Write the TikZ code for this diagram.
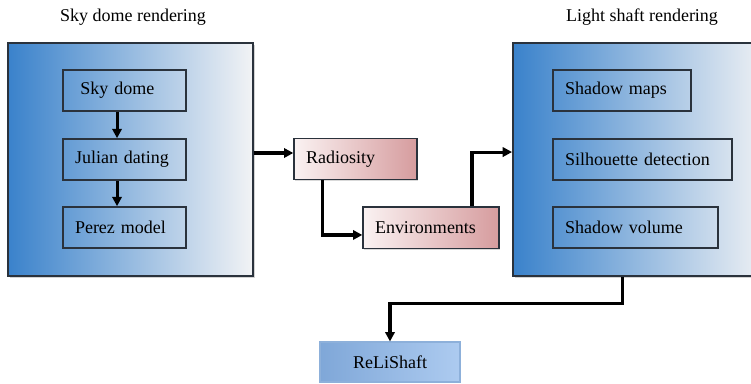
\documentclass[tikz,border=0pt]{standalone}
\usepackage{fontspec}
\setmainfont{Liberation Serif}
\usetikzlibrary{arrows.meta,shadows}
\definecolor{bluedark}{HTML}{3A82CB}
\definecolor{bluemid}{HTML}{A9C6E6}
\definecolor{bluelight}{HTML}{F2F3F5}
\definecolor{pinklight}{HTML}{FAF2F2}
\definecolor{pinkdark}{HTML}{D69C9E}
\definecolor{relileft}{HTML}{7FA7D8}
\definecolor{reliright}{HTML}{ADCBF0}
\definecolor{reliborder}{HTML}{8DB0DA}
\definecolor{boxborder}{HTML}{2A323C}
\tikzset{
  txt/.style={font=\fontsize{13.5}{16}\selectfont},
  bigbox/.style={draw=boxborder, line width=1.4pt, left color=bluedark, middle color=bluemid, right color=bluelight,
    shading=axis, drop shadow={shadow xshift=1.5pt, shadow yshift=-1.5pt, opacity=0.35},
    minimum height=174.75pt, inner sep=0pt},
  innerbox/.style={txt, draw=boxborder, line width=1.2pt, minimum height=30.75pt,
    inner xsep=9pt, inner ysep=0pt, align=left},
  pinkbox/.style={txt, draw=boxborder, line width=1pt, left color=pinklight, right color=pinkdark,
    drop shadow={shadow xshift=1pt, shadow yshift=-1pt, opacity=0.3},
    minimum height=31pt, inner xsep=9pt, inner ysep=0pt, align=left},
  relibox/.style={txt, draw=reliborder, line width=0.8pt, left color=relileft, right color=reliright,
    minimum height=30pt, minimum width=105pt, inner sep=0pt},
  arr/.style={line width=2.3pt, -{Triangle[length=7pt,width=7pt]}},
}
\begin{document}
\begin{tikzpicture}[x=0.75pt,y=-0.75pt]
\useasboundingbox (0,0) rectangle (751,383);
% titles
\node[txt] (t1) at (133,17) {Sky dome rendering};
\node[txt] (t2) at (642,17) {Light shaft rendering};
% big boxes
\node[bigbox, minimum width=183.75pt] (lb) at (130.5,159.5) {};
\node[bigbox, minimum width=192.75pt] (rb) at (641.5,159.5) {};
% left inner
\node[innerbox, text width=74.25pt] (sky) at (124.5,90.5) {\hspace{4pt}Sky dome};
\node[innerbox, text width=74.25pt] (jul) at (124.5,159.5) {Julian dating};
\node[innerbox, text width=74.25pt] (per) at (124.5,227.5) {Perez model};
% right inner
\node[innerbox, text width=85.5pt] (sm) at (622,90.5) {Shadow maps};
\node[innerbox, text width=116.25pt] (sil) at (642.5,159.5) {Silhouette detection};
\node[innerbox, text width=105.75pt] (sv) at (635.5,227.5) {Shadow volume};
% middle
\node[pinkbox, text width=74.25pt] (rad) at (355.5,159) {Radiosity};
\node[pinkbox, text width=84pt] (env) at (431,227.5) {Environments};
% bottom
\node[relibox] (reli) at (390,362) {ReLiShaft};
% connectors
\draw[arr] ([xshift=-5.6pt]sky.south) -- ([xshift=-5.6pt]jul.north);
\draw[arr] ([xshift=-5.6pt]jul.south) -- ([xshift=-5.6pt]per.north);
\draw[arr] ([yshift=4.5pt]rad.west -| lb.east) -- ([yshift=4.5pt]rad.west);
\draw[arr] ([xshift=-25pt]rad.south) |- ([yshift=-5.6pt]env.west);
\draw[arr] ([xshift=30.75pt]env.north) |- ([yshift=5.6pt]rb.west);
\coordinate (bend) at ([xshift=-14.6pt,yshift=-20pt]rb.south);
\draw[arr] ([xshift=-14.6pt]rb.south) -- (bend) -| (reli.north);
\end{tikzpicture}
\end{document}
